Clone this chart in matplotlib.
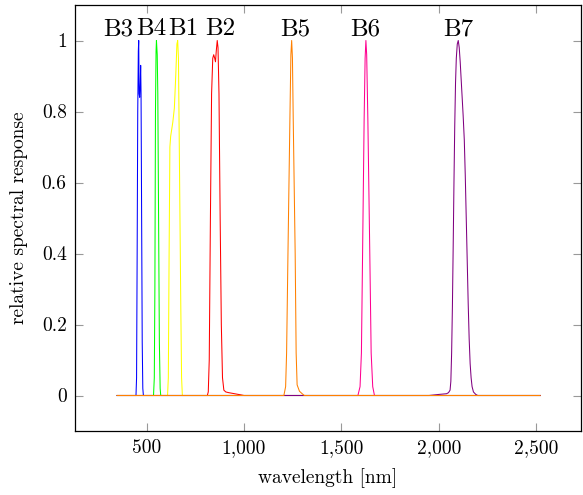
import matplotlib
matplotlib.use("Agg")
import matplotlib.pyplot as plt
from matplotlib.ticker import FuncFormatter, FixedLocator

plt.rcParams['font.family'] = ['cmr10', 'DejaVu Serif']
plt.rcParams['mathtext.fontset'] = 'cm'
plt.rcParams['axes.unicode_minus'] = False
plt.rcParams['axes.formatter.use_mathtext'] = True

WL_MIN, WL_MAX = 350, 2520

# band responses (wavelength nm, relative response)
b1_wl = [608, 612, 616, 620, 624, 635, 643, 650, 656, 660, 664, 670, 676, 680, 684]
b1_r  = [0, 0.05, 0.4, 0.7, 0.73, 0.77, 0.81, 0.9, 0.99, 1.0, 0.95, 0.6, 0.25, 0.05, 0]
b2_wl = [812, 817, 822, 828, 834, 840, 845, 850, 854, 858, 863, 867, 872, 878, 884, 890, 897, 907, 922, 942, 962, 982, 1000]
b2_r  = [0, 0.01, 0.1, 0.5, 0.85, 0.95, 0.96, 0.95, 0.94, 0.97, 1.0, 0.98, 0.85, 0.5, 0.2, 0.05, 0.015, 0.01, 0.008, 0.006, 0.004, 0.002, 0]
b3_wl = [446, 449, 452, 455, 458, 460, 462, 465, 468, 470, 472, 475, 478, 481, 484]
b3_r  = [0, 0.05, 0.4, 0.8, 0.97, 1.0, 0.85, 0.84, 0.88, 0.93, 0.85, 0.5, 0.15, 0.02, 0]
b4_wl = [536, 540, 543, 546, 549, 551, 553, 555, 558, 562, 566, 570, 573]
b4_r  = [0, 0.05, 0.3, 0.8, 0.97, 1.0, 0.98, 0.96, 0.85, 0.5, 0.15, 0.02, 0]
b5_wl = [1205, 1214, 1219, 1226, 1236, 1241, 1245, 1249, 1253, 1263, 1268, 1273, 1285, 1299, 1310]
b5_r  = [0, 0.025, 0.12, 0.4, 0.78, 0.96, 1.0, 0.95, 0.78, 0.4, 0.12, 0.03, 0.012, 0.005, 0]
b6_wl = [1585, 1596, 1603, 1609, 1617, 1622, 1626, 1630, 1636, 1646, 1653, 1661, 1670]
b6_r  = [0, 0.025, 0.12, 0.4, 0.78, 0.95, 1.0, 0.96, 0.78, 0.4, 0.12, 0.025, 0]
b7_wl = [1950, 2000, 2040, 2050, 2058, 2062, 2066, 2070, 2074, 2078, 2082, 2086, 2090, 2095, 2100,
         2105, 2110, 2115, 2120, 2125, 2131, 2136, 2141, 2146, 2151, 2156, 2161, 2166, 2171, 2178, 2190, 2200]
b7_r  = [0, 0.003, 0.005, 0.008, 0.015, 0.04, 0.12, 0.25, 0.42, 0.6, 0.76, 0.88, 0.95, 0.99, 1.0,
         0.98, 0.94, 0.89, 0.84, 0.79, 0.72, 0.62, 0.5, 0.38, 0.26, 0.16, 0.09, 0.05, 0.025, 0.01, 0.003, 0]

band_names  = ['B1', 'B2', 'B3', 'B4', 'B6', 'B7', 'B5']
band_colors = ['#ffff00', '#ff0000', '#0000ff', '#00ff00', '#ff0090', '#800080', '#ff8000']
band_wls = [b1_wl, b2_wl, b3_wl, b4_wl, b6_wl, b7_wl, b5_wl]
band_rs  = [b1_r, b2_r, b3_r, b4_r, b6_r, b7_r, b5_r]

label_names = ['B3', 'B4', 'B1', 'B2', 'B5', 'B6', 'B7']
label_x     = [355, 522, 690, 878, 1263, 1621, 2102]

xticks = [500, 1000, 1500, 2000, 2500]
yticks = [0, 0.2, 0.4, 0.6, 0.8, 1.0]

fig = plt.figure(figsize=(5.83, 4.95), dpi=100)
ax = fig.add_axes([75/583, 64/495, (581-75)/583, (431-5)/495])

for wl, r, c in zip(band_wls, band_rs, band_colors):
    xs = [WL_MIN] + list(wl) + [WL_MAX]
    ys = [0] + list(r) + [0]
    ax.plot(xs, ys, color=c, lw=0.75)

for name, x in zip(label_names, label_x):
    ax.text(x, 1.015, name, ha='center', va='baseline', fontsize=18)

ax.set_xlim(133, 2730)
ax.set_ylim(-0.1, 1.1)
ax.xaxis.set_major_locator(FixedLocator(xticks))
ax.yaxis.set_major_locator(FixedLocator(yticks))
ax.xaxis.set_major_formatter(FuncFormatter(lambda v, p: f"{v:,.0f}"))
ax.yaxis.set_major_formatter(FuncFormatter(lambda v, p: f"{v:g}"))
ax.tick_params(direction='in', length=6, width=0.8, color='0.6', labelsize=14,
               top=True, right=True, pad=6)
for s in ax.spines.values():
    s.set_linewidth(0.9)

ax.set_xlabel('wavelength [nm]', fontsize=14, labelpad=8)
ax.set_ylabel('relative spectral response', fontsize=14, labelpad=10)

fig.savefig('out.png', dpi=100)
